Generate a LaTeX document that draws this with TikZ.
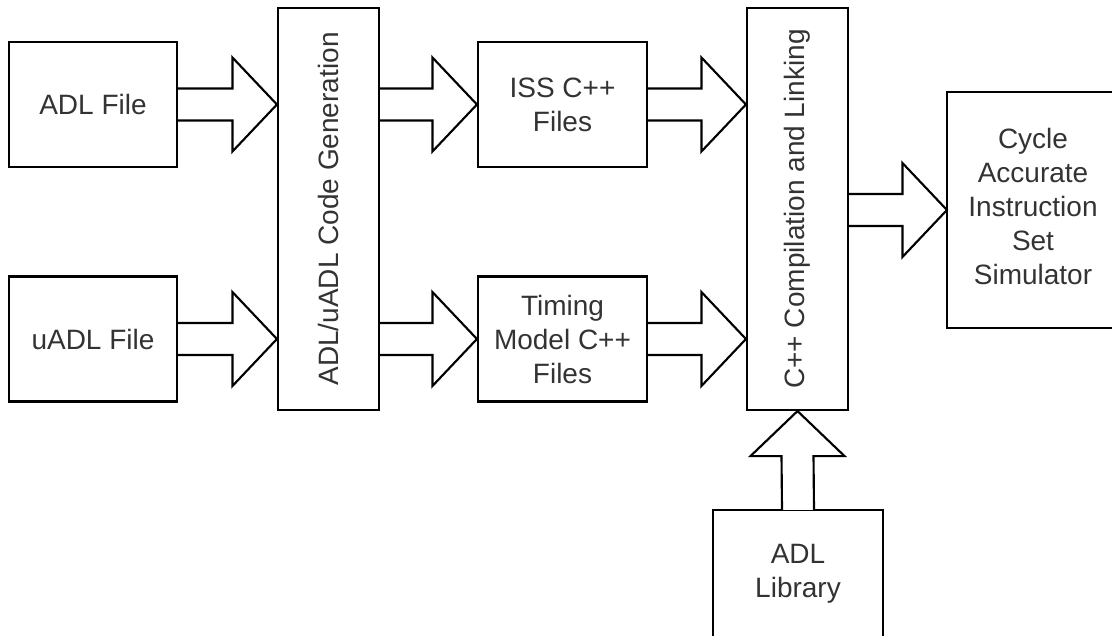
\documentclass[tikz,border=0pt]{standalone}
\usepackage{fontspec}
\setmainfont{Liberation Sans}
\usepackage{graphicx}
\usetikzlibrary{calc}

\tikzset{
  box/.style={draw, line width=1.6pt, align=center, text=black!80,
    font=\fontsize{21}{25.5}\selectfont, inner sep=0pt},
  openbox/.style={box, draw=none},
  fat/.style={draw, line width=1.6pt, fill=white},
}

% block arrow pointing right: start, tip
\newcommand{\fatright}[2]{%
  \draw[fat] ($(#1)+(0,-16)$) -- ($(#2)+(-44.5,-16)$) -- ($(#2)+(-44.5,-47)$) -- (#2)
    -- ($(#2)+(-44.5,47)$) -- ($(#2)+(-44.5,16)$) -- ($(#1)+(0,16)$);}
% block arrow pointing up: start, tip
\newcommand{\fatup}[2]{%
  \draw[fat] ($(#1)+(-16,0)$) -- ($(#2)+(-16,45)$) -- ($(#2)+(-47,45)$) -- (#2)
    -- ($(#2)+(47,45)$) -- ($(#2)+(16,45)$) -- ($(#1)+(16,0)$);}

\begin{document}
\begin{tikzpicture}[x=0.75pt, y=-0.75pt]
        \useasboundingbox (0,0) rectangle (1112,635);

        \node[box, minimum width=126pt, minimum height=93.75pt] (adl) at (93,104.5) {ADL File};
        \node[box, minimum width=126pt, minimum height=93.75pt] (uadl) at (93,339) {uADL File};
        \node[box, minimum width=75.75pt, minimum height=301.5pt] (gen) at (328.5,209)
            {\rotatebox{90}{ADL/uADL Code Generation}};
        \node[box, minimum width=126.75pt, minimum height=93.75pt] (iss) at (562.5,104.5) {ISS C++\\Files};
        \node[box, minimum width=126.75pt, minimum height=93.75pt] (timing) at (562.5,339) {Timing\\Model C++\\Files};
        \node[box, minimum width=75.75pt, minimum height=301.5pt] (comp) at (797.5,209)
            {\rotatebox{90}{C++ Compilation and Linking}};

        % these two run off the edge of the picture
        \node[openbox, minimum width=123pt, minimum height=175.5pt] (sim) at (1030,210)
            {\hspace*{4.5pt}\begin{tabular}{@{}c@{}}Cycle\\Accurate\\Instruction\\Set\\Simulator\end{tabular}};
        \draw[line width=1.6pt] (sim.north east) -- (sim.north west) -- (sim.south west) -- (sim.south east);
        \node[openbox, minimum width=126pt, minimum height=93.75pt] (lib) at (798,573.5) {ADL\\Library};
        \draw[line width=1.6pt] (lib.south west) -- (lib.north west) -- (lib.north east) -- (lib.south east);

        % arrow tips on the box edges
        \coordinate (t1) at (adl.east -| gen.west);
        \coordinate (t2) at (uadl.east -| gen.west);
        \coordinate (s3) at (gen.east |- iss.west);
        \coordinate (s4) at (gen.east |- timing.west);
        \coordinate (t5) at (iss.east -| comp.west);
        \coordinate (t6) at (timing.east -| comp.west);
        \coordinate (s7) at (comp.east |- sim.west);

        \fatright{adl.east}{t1}
        \fatright{uadl.east}{t2}
        \fatright{s3}{iss.west}
        \fatright{s4}{timing.west}
        \fatright{iss.east}{t5}
        \fatright{timing.east}{t6}
        \fatright{s7}{sim.west}
        \fatup{lib.north}{comp.south}
    \end{tikzpicture}
\end{document}
